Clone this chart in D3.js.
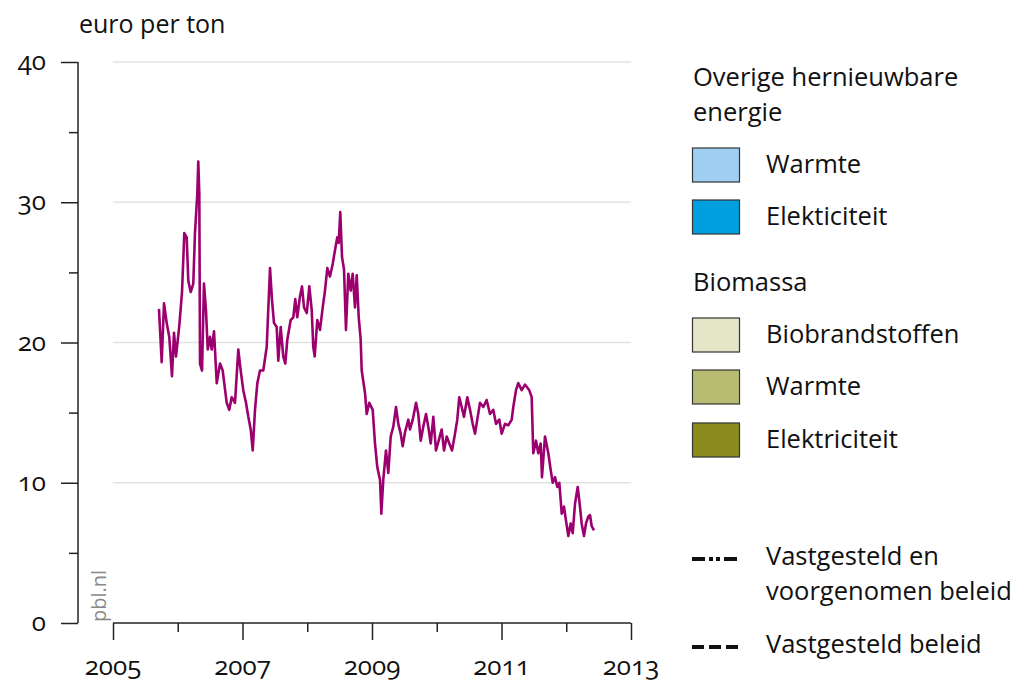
<!doctype html>
<html>
<head>
<meta charset="utf-8">
<style>
  body { margin: 0; background: #fff; }
  svg text { font-family: "Open Sans", "Noto Sans", sans-serif; fill: #111; }
  .num { font-variant-numeric: oldstyle-nums; font-feature-settings: "onum" 1; }
  .grid line { stroke: #e3e3e3; stroke-width: 1.5; }
  .axis path, .axis line { stroke: #222; stroke-width: 1.5; }
</style>
<script src="https://d3js.org/d3.v7.min.js"></script>
</head>
<body>
<svg width="1021" height="683"></svg>
<script>
// jaartal (decimaal) en CO2-prijs in euro per ton
var years = [
  2005.710, 2005.752, 2005.788, 2005.829, 2005.869, 2005.911, 2005.942, 2005.973,
  2006.024, 2006.066, 2006.101, 2006.138, 2006.163, 2006.200, 2006.240, 2006.266,
  2006.302, 2006.317, 2006.333, 2006.344, 2006.375, 2006.405, 2006.436, 2006.463,
  2006.498, 2006.524, 2006.560, 2006.602, 2006.653, 2006.694, 2006.756, 2006.796,
  2006.833, 2006.884, 2006.935, 2006.972, 2007.012, 2007.054, 2007.090, 2007.127,
  2007.158, 2007.193, 2007.229, 2007.270, 2007.321, 2007.374, 2007.425, 2007.456,
  2007.486, 2007.528, 2007.553, 2007.590, 2007.630, 2007.661, 2007.692, 2007.744,
  2007.785, 2007.815, 2007.846, 2007.888, 2007.919, 2007.950, 2007.992, 2008.032,
  2008.069, 2008.093, 2008.115, 2008.155, 2008.197, 2008.239, 2008.274, 2008.310,
  2008.351, 2008.393, 2008.429, 2008.464, 2008.486, 2008.510, 2008.537, 2008.568,
  2008.598, 2008.634, 2008.671, 2008.702, 2008.737, 2008.764, 2008.795, 2008.825,
  2008.841, 2008.892, 2008.918, 2008.958, 2009.011, 2009.046, 2009.082, 2009.124,
  2009.144, 2009.174, 2009.216, 2009.252, 2009.289, 2009.329, 2009.371, 2009.406,
  2009.443, 2009.474, 2009.510, 2009.561, 2009.587, 2009.629, 2009.680, 2009.715,
  2009.752, 2009.792, 2009.834, 2009.869, 2009.907, 2009.947, 2009.988, 2010.030,
  2010.076, 2010.112, 2010.154, 2010.194, 2010.236, 2010.282, 2010.317, 2010.348,
  2010.385, 2010.421, 2010.472, 2010.514, 2010.555, 2010.591, 2010.626, 2010.668,
  2010.719, 2010.771, 2010.822, 2010.873, 2010.915, 2010.966, 2011.003, 2011.054,
  2011.105, 2011.158, 2011.182, 2011.224, 2011.259, 2011.312, 2011.363, 2011.429,
  2011.466, 2011.491, 2011.533, 2011.568, 2011.605, 2011.625, 2011.672, 2011.723,
  2011.760, 2011.791, 2011.826, 2011.862, 2011.893, 2011.930, 2011.965, 2011.996,
  2012.032, 2012.069, 2012.100, 2012.135, 2012.177, 2012.212, 2012.238, 2012.274,
  2012.305, 2012.341, 2012.367, 2012.393, 2012.429
];
var prices = [
  22.4, 18.6, 22.8, 21.4, 20.4, 17.6, 20.7, 19.0,
  21.2, 23.6, 27.8, 27.5, 24.4, 23.6, 24.2, 27.8,
  30.6, 32.9, 30.6, 18.5, 18.0, 24.2, 22.3, 19.5,
  20.4, 19.5, 20.8, 17.1, 18.5, 18.0, 15.7, 15.2,
  16.1, 15.7, 19.5, 18.0, 16.6, 15.7, 14.7, 13.8,
  12.3, 15.2, 17.1, 18.0, 18.0, 19.7, 25.3, 23.0,
  21.4, 21.1, 18.7, 21.1, 19.0, 18.5, 20.2, 21.6,
  21.8, 23.1, 21.8, 23.3, 24.0, 22.5, 22.1, 24.0,
  22.3, 19.7, 19.0, 21.6, 20.9, 22.5, 23.7, 25.3,
  24.7, 25.6, 26.6, 27.5, 27.1, 29.3, 26.1, 25.2,
  20.9, 24.9, 23.7, 24.9, 22.5, 24.8, 21.8, 20.2,
  18.0, 16.4, 14.9, 15.7, 15.2, 12.8, 11.1, 10.2,
  7.8, 10.2, 12.3, 10.7, 13.3, 14.0, 15.4, 14.2,
  13.5, 12.6, 13.6, 14.5, 13.8, 14.5, 15.7, 14.9,
  13.0, 14.0, 14.9, 14.0, 12.8, 14.7, 12.3, 13.0,
  13.8, 12.3, 13.3, 12.8, 12.3, 13.5, 14.5, 16.1,
  15.4, 14.7, 16.1, 15.2, 14.2, 13.5, 14.5, 15.7,
  15.4, 15.9, 14.9, 15.2, 14.2, 14.5, 13.5, 14.2,
  14.1, 14.5, 15.4, 16.6, 17.1, 16.6, 17.0, 16.6,
  16.1, 12.1, 13.0, 12.1, 12.8, 10.4, 13.3, 12.1,
  10.9, 10.0, 10.4, 9.7, 10.0, 7.8, 8.3, 7.3,
  6.2, 7.1, 6.4, 8.5, 9.7, 8.3, 7.1, 6.2,
  7.1, 7.6, 7.7, 6.9, 6.6
];

var yTicks = [0, 10, 20, 30, 40];
var xTickLabels = [2005, 2007, 2009, 2011, 2013];

var legendGroups = ["Overige hernieuwbare energie", "Biomassa"];
var legendItems = [
  { group: 0, label: "Warmte", color: "#9fcff3" },
  { group: 0, label: "Elekticiteit", color: "#009fe0" },
  { group: 1, label: "Biobrandstoffen", color: "#e5e5c8" },
  { group: 1, label: "Warmte", color: "#b8bb72" },
  { group: 1, label: "Elektriciteit", color: "#8a8c1e" }
];
var lineLegend = [
  { label: ["Vastgesteld en", "voorgenomen beleid"], dash: "13,4,4,3,4,4,13" },
  { label: ["Vastgesteld beleid"], dash: "12,5" }
];

var svg = d3.select("svg");
var x = d3.scaleLinear().domain([2005, 2013]).range([113, 631]);
var y = d3.scaleLinear().domain([0, 40]).range([623, 62]);

// rasterlijnen
svg.append("g").attr("class", "grid")
  .selectAll("line").data(yTicks.filter(function(d) { return d > 0; }))
  .enter().append("line")
  .attr("x1", 113).attr("x2", 631)
  .attr("y1", function(d) { return y(d); })
  .attr("y2", function(d) { return y(d); });

// y-as
var yAxis = svg.append("g").attr("class", "axis")
  .attr("transform", "translate(78,0)")
  .call(d3.axisLeft(y).tickValues(d3.range(0, 41, 5)).tickSizeOuter(0)
    .tickSize(17).tickFormat(""));
yAxis.selectAll(".tick line").attr("x2", function(d) { return d % 10 ? -9 : -17; });
yAxis.select(".domain").attr("d", "M0," + y(40) + "V" + y(0));
svg.append("g").selectAll("text").data(yTicks).enter().append("text")
  .attr("class", "num")
  .attr("x", 46).attr("y", function(d) { return y(d) + 8; })
  .attr("text-anchor", "end").attr("font-size", 26)
  .text(function(d) { return d; });

// x-as
var xAxis = svg.append("g").attr("class", "axis")
  .attr("transform", "translate(0,623)")
  .call(d3.axisBottom(x).tickValues(d3.range(2005, 2014)).tickSizeOuter(0)
    .tickSize(17).tickFormat(""));
xAxis.selectAll(".tick line").attr("y2", function(d) { return d % 2 ? 17 : 9; });
xAxis.select(".domain").attr("d", "M" + x(2005) + ",0H" + x(2013));
svg.append("g").selectAll("text").data(xTickLabels).enter().append("text")
  .attr("class", "num")
  .attr("x", function(d) { return x(d); }).attr("y", 675)
  .attr("text-anchor", "middle").attr("font-size", 26)
  .text(function(d) { return d; });

// eenheid
svg.append("text").attr("x", 79).attr("y", 33).attr("font-size", 25).text("euro per ton");

// bron
svg.append("text").attr("transform", "translate(106,622) rotate(-90)")
  .attr("font-size", 20).style("fill", "#888").text("pbl.nl");

// prijslijn
var line = d3.line()
  .x(function(d, i) { return x(years[i]); })
  .y(function(d) { return y(d); });
svg.append("path").datum(prices)
  .attr("d", line)
  .attr("fill", "none").attr("stroke", "#9c006e")
  .attr("stroke-width", 2.6).attr("stroke-linejoin", "round");

// legenda
var lg = svg.append("g");
var groupY = [86, 291];
var itemY = [148, 200, 318, 370, 423];
legendGroups.forEach(function(g, i) {
  var t = lg.append("text").attr("x", 693).attr("y", groupY[i]).attr("font-size", 25.5);
  if (i === 0) {
    t.append("tspan").attr("x", 693).text("Overige hernieuwbare");
    t.append("tspan").attr("x", 693).attr("dy", 35).text("energie");
  } else {
    t.text(g);
  }
});
legendItems.forEach(function(d, i) {
  lg.append("rect").attr("x", 692.5).attr("y", itemY[i]).attr("width", 47).attr("height", 34)
    .attr("fill", d.color).attr("stroke", "#333").attr("stroke-width", 1.2);
  lg.append("text").attr("x", 766).attr("y", itemY[i] + 25).attr("font-size", 25.5).text(d.label);
});
var lineY = [559, 647];
lineLegend.forEach(function(d, i) {
  lg.append("line").attr("x1", 692).attr("x2", 738)
    .attr("y1", lineY[i]).attr("y2", lineY[i])
    .attr("stroke", "#111").attr("stroke-width", 4)
    .attr("stroke-dasharray", d.dash);
  var t = lg.append("text").attr("x", 766).attr("y", lineY[i] + 6).attr("font-size", 25.5);
  d.label.forEach(function(s, j) {
    t.append("tspan").attr("x", 766).attr("dy", j ? 35 : 0).text(s);
  });
});
</script>
</body>
</html>
